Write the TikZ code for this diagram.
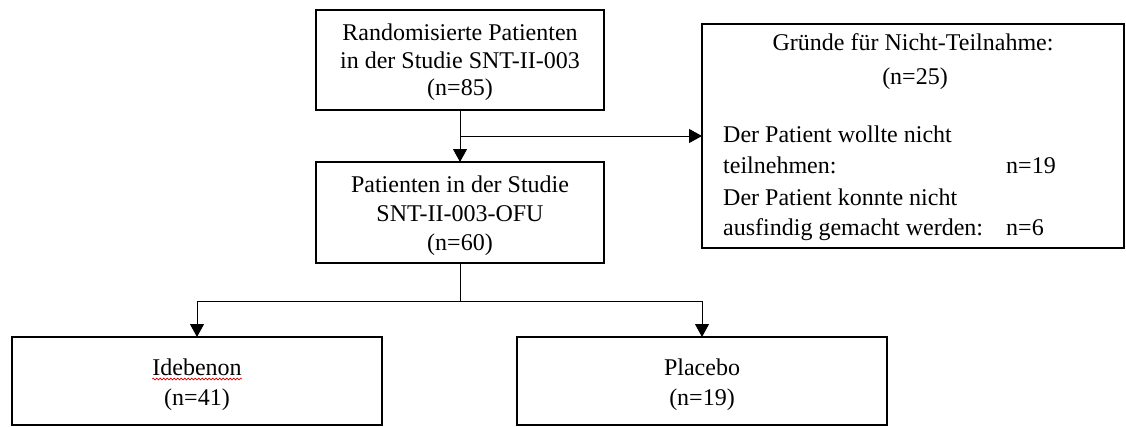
\documentclass[tikz,border=0pt]{standalone}
\usepackage{fontspec}
\setmainfont{Liberation Serif}
\usetikzlibrary{arrows.meta,decorations.pathmorphing}
\begin{document}
\begin{tikzpicture}[x=1pt,y=-1pt,
  box/.style={draw, line width=2pt, inner sep=0pt, outer sep=0pt},
  txt/.style={inner sep=0pt, anchor=base, font=\fontsize{24}{29}\selectfont},
  ltxt/.style={txt, anchor=base west},
  conn/.style={line width=1pt},
  arr/.style={conn, -{Triangle[length=13pt,width=14pt]}}]
\useasboundingbox (0,0) rectangle (1126,426);
% boxes
\node[box, minimum width=288pt, minimum height=100pt] (b1) at (460,60) {};
\node[box, minimum width=288pt, minimum height=101pt] (b2) at (460,212.5) {};
\node[box, minimum width=422pt, minimum height=224pt] (b3) at (913,136) {};
\node[box, minimum width=370pt, minimum height=88pt] (ide) at (197,381) {};
\node[box, minimum width=370pt, minimum height=88pt] (pla) at (702,381) {};
% texts box 1
\node[txt] (t11) at (460,40) {Randomisierte Patienten};
\node[txt] (t12) at (460,68) {in der Studie SNT-II-003};
\node[txt] (t13) at (460,95) {(n=85)};
% texts box 2
\node[txt] (t21) at (460,192) {Patienten in der Studie};
\node[txt] (t22) at (460,221) {SNT-II-003-OFU};
\node[txt] (t23) at (460,250) {(n=60)};
% texts box 3
\node[txt] (t31) at (913,50) {Gründe für Nicht-Teilnahme:};
\node[txt] (t32) at (915,84) {(n=25)};
\node[ltxt] (t33) at (723,142) {Der Patient wollte nicht};
\node[ltxt] (t34) at (723,173) {teilnehmen:};
\node[ltxt] (t35) at (1006,173) {n=19};
\node[ltxt] (t36) at (723,205) {Der Patient konnte nicht};
\node[ltxt] (t37) at (723,235) {ausfindig gemacht werden:};
\node[ltxt] (t38) at (1006,235) {n=6};
% texts bottom boxes
\node[txt] (t41) at (197,375) {Idebenon};
\node[txt] (t42) at (197,405) {(n=41)};
\node[txt] (t51) at (702,375) {Placebo};
\node[txt] (t52) at (702,405) {(n=19)};
\draw[red!85!black, line width=0.6pt, decorate, decoration={snake, amplitude=0.9pt, segment length=3.5pt}]
  ([yshift=-4pt]t41.base west) -- ([yshift=-4pt]t41.base east);
% connectors
\coordinate (j1) at (460,136);
\coordinate (j2) at (460,301);
\draw[arr] (b1.south) -- (b2.north);
\draw[arr] (j1) -- (b3.west |- j1);
\draw[conn] (b2.south) -- (j2);
\draw[arr] (j2) -| (ide.north);
\draw[arr] (j2) -| (pla.north);
\end{tikzpicture}
\end{document}
